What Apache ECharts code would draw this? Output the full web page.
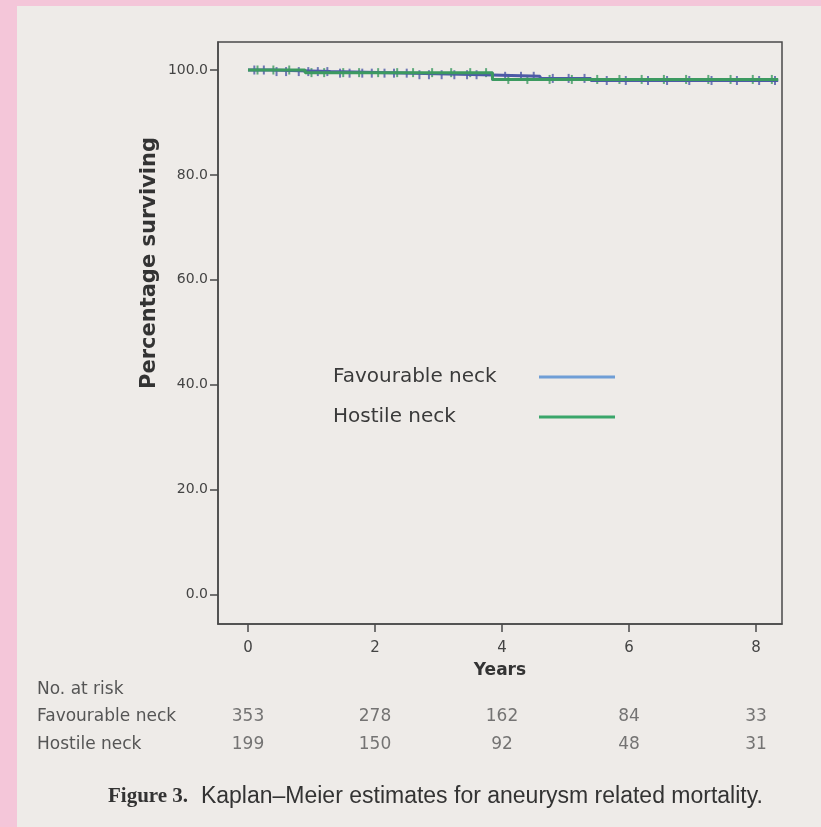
<!DOCTYPE html>
<html>
<head>
<meta charset="utf-8">
<script src="https://cdn.jsdelivr.net/npm/echarts@6/dist/echarts.min.js"></script>
<style>
  html, body { margin: 0; padding: 0; background: #eeebe8; }
  #chart { width: 821px; height: 827px; }
</style>
</head>
<body>
<div id="chart"></div>
<script>
// Kaplan-Meier steps (years, % surviving)
var favTimes = [0, 0.35, 1.3, 2.6, 3.7, 4.6, 5.4, 8.35];
var favSurv = [100, 99.7, 99.4, 99.1, 98.8, 98.4, 98.0, 98.0];
var hosTimes = [0, 0.9, 3.85, 8.35];
var hosSurv = [100, 99.5, 98.2, 98.2];

// censored observations (years)
var favCensor = [0.1, 0.25, 0.45, 0.6, 0.8, 0.95, 1.1, 1.25, 1.45, 1.6, 1.8, 1.95, 2.15, 2.3, 2.5, 2.7, 2.85,
  3.05, 3.25, 3.45, 3.6, 3.85, 4.05, 4.3, 4.5, 4.8, 5.05, 5.3, 5.65, 5.95, 6.3, 6.6, 6.95, 7.3, 7.7, 8.05, 8.3];
var hosCensor = [0.15, 0.4, 0.65, 1.0, 1.2, 1.5, 1.75, 2.05, 2.35, 2.6, 2.9, 3.2, 3.5, 3.75, 4.1, 4.4, 4.75,
  5.1, 5.5, 5.85, 6.2, 6.55, 6.9, 7.25, 7.6, 7.95, 8.25];

var yearTicks = [0, 2, 4, 6, 8];
var pctTicks = [0, 20, 40, 60, 80, 100];

// numbers at risk
var riskGroups = ["Favourable neck", "Hostile neck"];
var favRisk = [353, 278, 162, 84, 33];
var hosRisk = [199, 150, 92, 48, 31];

var favColor = "#4d5aa6";
var hosColor = "#3c9a60";

function stepAt(times, surv, t) {
  var s = surv[0];
  for (var i = 0; i < times.length; i++) {
    if (times[i] <= t) s = surv[i];
  }
  return s;
}

function pairs(times, surv) {
  return times.map(function (t, i) { return [t, surv[i]]; });
}

function censorPts(list, times, surv) {
  return list.map(function (t) { return [t, stepAt(times, surv, t)]; });
}

var riskData = [];
yearTicks.forEach(function (y, i) {
  riskData.push([y, riskGroups[0], favRisk[i]]);
  riskData.push([y, riskGroups[1], hosRisk[i]]);
});

var chart = echarts.init(document.getElementById("chart"));

var option = {
  backgroundColor: "#eeebe8",
  animation: false,
  grid: [
    { left: 218, right: 39, top: 42, bottom: 203, show: true, borderColor: "#4a4a4a", borderWidth: 1.5, backgroundColor: "transparent" },
    { left: 218, right: 39, top: 703, height: 56 }
  ],
  xAxis: [
    {
      type: "value", gridIndex: 0, min: -0.472, max: 8.41,
      splitLine: { show: false },
      axisLine: { show: true, onZero: false, lineStyle: { color: "#4a4a4a", width: 1.5 } },
      axisTick: { show: true, customValues: yearTicks, length: 8, lineStyle: { color: "#4a4a4a", width: 1.5 } },
      axisLabel: { customValues: yearTicks, margin: 17, fontSize: 15, color: "#444", fontFamily: "DejaVu Sans" },
      name: "Years", nameLocation: "middle", nameGap: 38,
      nameTextStyle: { fontSize: 17, fontWeight: "bold", color: "#333", fontFamily: "DejaVu Sans" }
    },
    {
      type: "value", gridIndex: 1, min: -0.472, max: 8.41, show: false
    }
  ],
  yAxis: [
    {
      type: "value", gridIndex: 0, min: -5.62, max: 105.34,
      splitLine: { show: false },
      axisLine: { show: true, onZero: false, lineStyle: { color: "#4a4a4a", width: 1.5 } },
      axisTick: { show: true, customValues: pctTicks, length: 8, lineStyle: { color: "#4a4a4a", width: 1.5 } },
      axisLabel: {
        customValues: pctTicks, margin: 10, fontSize: 14, color: "#444", fontFamily: "DejaVu Sans",
        formatter: function (v) { return v.toFixed(1); }
      }
    },
    {
      type: "category", gridIndex: 1, data: riskGroups, inverse: true,
      axisLine: { show: false }, axisTick: { show: false },
      axisLabel: { align: "left", margin: 181, fontSize: 17, color: "#555", fontFamily: "DejaVu Sans" }
    }
  ],
  legend: {
    orient: "vertical", left: 328, top: 359, align: "right",
    icon: "rect", itemWidth: 76, itemHeight: 3, itemGap: 14,
    formatter: function (name) { return "{t|" + name + "}"; },
    textStyle: {
      fontSize: 20, color: "#3a3a3a", fontFamily: "DejaVu Sans", lineHeight: 26,
      rich: { t: { width: 201, align: "left", fontSize: 20, color: "#3a3a3a", fontFamily: "DejaVu Sans", lineHeight: 26 } }
    },
    data: [
      { name: "Favourable neck", itemStyle: { color: "#6f9ed6" } },
      { name: "Hostile neck", itemStyle: { color: "#3aa66a" } }
    ]
  },
  graphic: [
    { type: "rect", shape: { x: 0, y: 0, width: 17, height: 827 }, style: { fill: "#f4c6d9" }, silent: true },
    { type: "rect", shape: { x: 0, y: 0, width: 821, height: 6 }, style: { fill: "#f4c6d9" }, silent: true },
    {
      type: "text", x: 150, y: 263, rotation: Math.PI / 2,
      style: { text: "Percentage surviving", fontSize: 21, fontWeight: "bold", fill: "#333", fontFamily: "DejaVu Sans", align: "center", verticalAlign: "middle" }
    },
    {
      type: "text", x: 37, y: 690,
      style: { text: "No. at risk", fontSize: 17, fill: "#555", fontFamily: "DejaVu Sans", verticalAlign: "middle" }
    },
    {
      type: "text", x: 108, y: 797,
      style: {
        text: "{b|Figure 3.}  Kaplan–Meier estimates for aneurysm related mortality.",
        fontSize: 23, fill: "#333", fontFamily: "Liberation Sans", verticalAlign: "middle",
        rich: { b: { fontWeight: "bold", fontSize: 21, fill: "#333", fontFamily: "Liberation Serif" } }
      }
    }
  ],
  series: [
    {
      name: "Favourable neck", type: "line", step: "end", showSymbol: false,
      data: pairs(favTimes, favSurv), lineStyle: { color: favColor, width: 3 }, itemStyle: { color: favColor }
    },
    {
      name: "fav-censor", type: "scatter", symbol: "rect", symbolSize: [2, 9],
      data: censorPts(favCensor, favTimes, favSurv), itemStyle: { color: favColor }
    },
    {
      name: "Hostile neck", type: "line", step: "end", showSymbol: false,
      data: pairs(hosTimes, hosSurv), lineStyle: { color: hosColor, width: 3 }, itemStyle: { color: hosColor }
    },
    {
      name: "hos-censor", type: "scatter", symbol: "rect", symbolSize: [2, 9],
      data: censorPts(hosCensor, hosTimes, hosSurv), itemStyle: { color: hosColor }
    },
    {
      name: "at-risk", type: "scatter", xAxisIndex: 1, yAxisIndex: 1, symbolSize: 0,
      data: riskData,
      label: { show: true, position: "inside", formatter: function (p) { return p.value[2]; }, fontSize: 17, color: "#555", fontFamily: "DejaVu Sans" }
    }
  ]
};

chart.setOption(option);
</script>
</body>
</html>
